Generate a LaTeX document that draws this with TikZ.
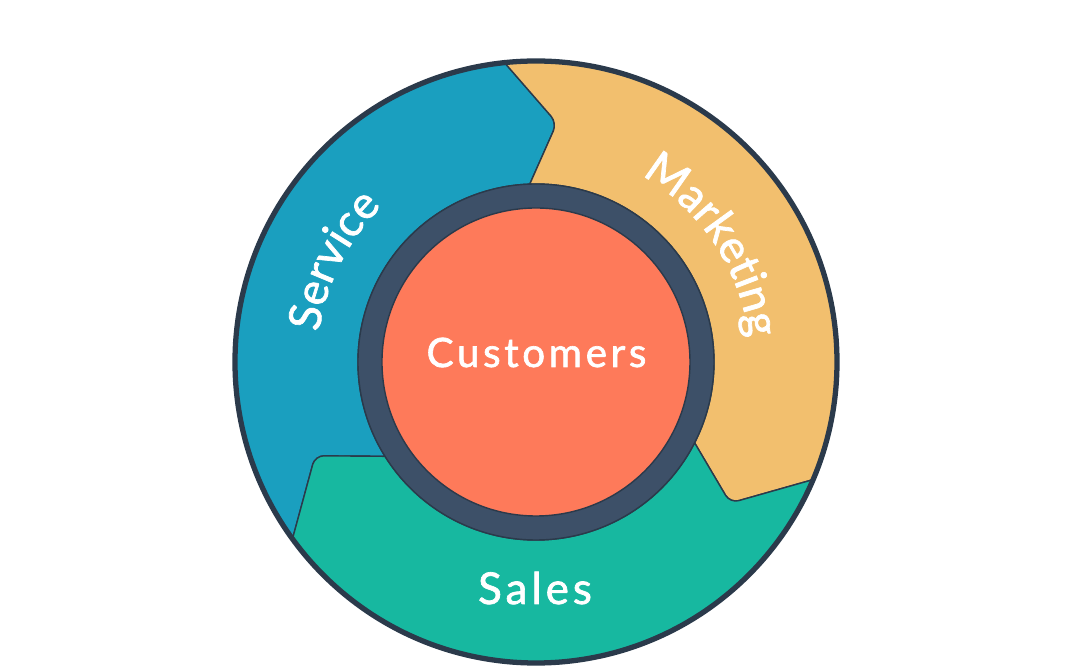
\documentclass[tikz,border=0pt]{standalone}
\usepackage{fontspec}
\newfontfamily\flyfont{Lato}[FakeBold=1.6, LetterSpace=9]
\usetikzlibrary{decorations.text}

\definecolor{servicecol}{HTML}{1A9FBF}
\definecolor{marketingcol}{HTML}{F2BF6E}
\definecolor{salescol}{HTML}{17B8A0}
\definecolor{customercol}{HTML}{FE7A5A}
\definecolor{ringcol}{HTML}{3D5068}
\definecolor{edgecol}{HTML}{2B3A4B}

\tikzset{
  segment/.style={draw=edgecol, line width=0.8pt},
  flylabel/.style={text=white, font=\flyfont\fontsize{23}{28}\selectfont, inner sep=0pt},
  arclabel/.style={decorate, decoration={text along path, text align=center, text color=white,
    text={|\flyfont\fontsize{25.5}{30}\selectfont|#1}}},
}

\begin{document}
\begin{tikzpicture}[x=0.02cm, y=0.02cm]
\useasboundingbox (-536,-310) rectangle (544,362);
% the three arrows of the wheel, clockwise
\path[segment, fill=servicecol] (216:301) [rounded corners=5pt] -- (203:240) [sharp corners] -- (212:178)
  arc[start angle=212, end angle=92, radius=178] [rounded corners=5pt] -- (85:240) [sharp corners] -- (96:301)
  arc[start angle=96, end angle=216, radius=301] -- cycle;
\path[segment, fill=marketingcol] (96:301) [rounded corners=5pt] -- (85:240) [sharp corners] -- (92:178)
  arc[start angle=92, end angle=-27, radius=178] [rounded corners=5pt] -- (-36:240) [sharp corners] -- (-23:301)
  arc[start angle=-23, end angle=96, radius=301] -- cycle;
\path[segment, fill=salescol] (-23:301) [rounded corners=5pt] -- (-36:240) [sharp corners] -- (-27:178)
  arc[start angle=-27, end angle=-148, radius=178] [rounded corners=5pt] -- (-157:240) [sharp corners] -- (-144:301)
  arc[start angle=-144, end angle=-23, radius=301] -- cycle;
% hub
\filldraw[fill=ringcol, draw=edgecol, line width=0.8pt] (0,0) circle (178);
\filldraw[fill=customercol, draw=edgecol, line width=0.8pt] (0,0) circle (154);
\draw[edgecol, line width=3pt] (0,0) circle (301);
% labels
\node[flylabel, anchor=base] (customers) at (0.5,-5) {Customers};
\node[flylabel, anchor=base, font=\flyfont\fontsize{25}{30}\selectfont] (sales) at (-1,-242) {Sales};
\path[arclabel=Service] (193.4:219) arc[start angle=193.4, end angle=113.4, radius=219];
\path[arclabel=Marketing] (73.5:214) arc[start angle=73.5, end angle=-6.5, radius=214];
\end{tikzpicture}
\end{document}
